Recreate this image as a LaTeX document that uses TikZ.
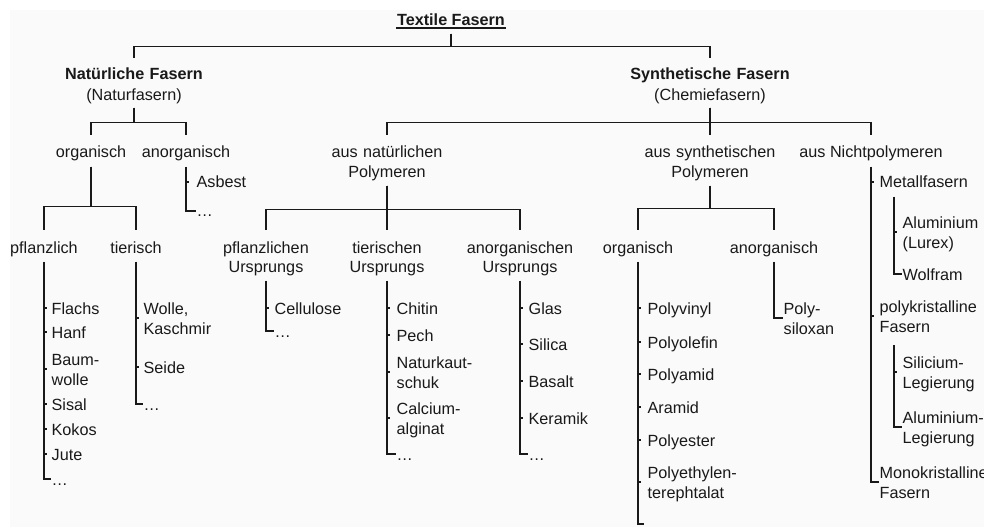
\documentclass[tikz,border=0pt]{standalone}
\usepackage{fontspec}
\setmainfont{Liberation Sans}
\usepackage{tikz}
\tikzset{cat/.style = {anchor=base, align=center, inner sep=0pt,
                       text height=22pt, text depth=8pt}}
\tikzset{cat2/.style = {cat, text width=200pt, text depth=27pt}}
\tikzset{item/.style = {anchor=west, inner sep=0pt,
                        text height=12pt, text depth=0pt}}
\tikzset{item2/.style = {item, align=left, text width=120pt, text depth=19pt}}
\definecolor{mgrey}{rgb}{0.98, 0.98, 0.98}
\definecolor{mline}{rgb}{0.1, 0.1, 0.1}

\begin{document}
\begin{tikzpicture}[x=1pt, y=-1pt, line width=1.3pt, color=mline,
                    every node/.style={font=\fontsize{16.2}{19.6}\selectfont}]
      \useasboundingbox (0, 0) rectangle (984, 529);
      \fill [mgrey] (10, 10) rectangle (984, 527);

      \node [anchor=base, inner sep=0pt, text height=12pt, text depth=7pt] (root) at (451, 26) {\textbf{Textile Fasern}};
      \draw ([yshift=-2pt]root.base west) -- ([yshift=-2pt]root.base east);

      \node [cat2, text height=21pt] (nat) at (134, 80) {\textbf{Natürliche Fasern}\\[1pt](Naturfasern)};
      \node [cat2, text height=21pt] (syn) at (710, 80) {\textbf{Synthetische Fasern}\\[1pt](Chemiefasern)};

      \node [cat] (org) at (91, 158) {organisch};
      \node [cat] (anorg) at (186, 158) {anorganisch};
      \node [cat2] (natpoly) at (387, 158) {aus natürlichen\\Polymeren};
      \node [cat2] (synpoly) at (710, 158) {aus synthetischen\\Polymeren};
      \node [cat] (nonpoly) at (871, 158) {aus Nichtpolymeren};

      \node [cat] (pfl) at (44, 253) {pflanzlich};
      \node [cat] (tier) at (136, 253) {tierisch};
      \node [cat2] (pu) at (266, 253) {pflanzlichen\\Ursprungs};
      \node [cat2] (tu) at (387, 253) {tierischen\\Ursprungs};
      \node [cat2] (au) at (520, 253) {anorganischen\\Ursprungs};
      \node [cat] (sorg) at (638, 253) {organisch};
      \node [cat] (sanorg) at (774, 253) {anorganisch};

      \draw (root.south) -- ++(0, 13) -| (nat.north);
      \draw (root.south) -- ++(0, 13) -| (syn.north);
      \draw (nat.south) -- ++(0, 15) -| (org.north);
      \draw (nat.south) -- ++(0, 15) -| (anorg.north);
      \draw (org.south) -- ++(0, 40) -| (pfl.north);
      \draw (org.south) -- ++(0, 40) -| (tier.north);
      \draw (syn.south) -- ++(0, 15) -| (natpoly.north);
      \draw (syn.south) -- ++(0, 15) -| (nonpoly.north);
      \draw (syn.south) -- (synpoly.north);
      \draw (natpoly.south) -- ++(0, 24) -| (pu.north);
      \draw (natpoly.south) -- ++(0, 24) -| (au.north);
      \draw (natpoly.south) -- (tu.north);
      \draw (synpoly.south) -- ++(0, 23) -| (sorg.north);
      \draw (synpoly.south) -- ++(0, 23) -| (sanorg.north);

      \node [item] (asbest) at (196, 182) {Asbest};
      \node [item] (adots) at (196, 211) {…};
      \draw (anorg.south) |- (adots.west);
      \draw (asbest.west -| anorg.south) -- ++(3, 0);

      \node [item] (flachs) at (51, 308) {Flachs};
      \node [item] (hanf) at (51, 332) {Hanf};
      \node [item2] (baum) at (51, 369) {Baum-\\wolle};
      \node [item] (sisal) at (51, 404) {Sisal};
      \node [item] (kokos) at (51, 429) {Kokos};
      \node [item] (jute) at (51, 454) {Jute};
      \node [item] (pdots) at (51, 479) {…};
      \draw (pfl.south) |- (pdots.west);
      \foreach \n in {flachs, hanf, baum, sisal, kokos, jute}
        \draw (\n.west -| pfl.south) -- ++(3, 0);

      \node [item2] (wolle) at (143, 318) {Wolle,\\Kaschmir};
      \node [item] (seide) at (143, 367) {Seide};
      \node [item] (tdots) at (143, 404) {…};
      \draw (tier.south) |- (tdots.west);
      \foreach \n in {wolle, seide}
        \draw (\n.west -| tier.south) -- ++(3, 0);

      \node [item] (cellu) at (274, 308) {Cellulose};
      \node [item] (pudots) at (274, 331) {…};
      \draw (pu.south) |- (pudots.west);
      \draw (cellu.west -| pu.south) -- ++(3, 0);

      \node [item] (chitin) at (396, 308) {Chitin};
      \node [item] (pech) at (396, 335) {Pech};
      \node [item2] (kaut) at (396, 372) {Naturkaut-\\schuk};
      \node [item2] (calc) at (396, 418) {Calcium-\\alginat};
      \node [item] (tudots) at (396, 454) {…};
      \draw (tu.south) |- (tudots.west);
      \foreach \n in {chitin, pech, kaut, calc}
        \draw (\n.west -| tu.south) -- ++(3, 0);

      \node [item] (glas) at (528, 308) {Glas};
      \node [item] (silica) at (528, 344) {Silica};
      \node [item] (basalt) at (528, 381) {Basalt};
      \node [item] (keramik) at (528, 418) {Keramik};
      \node [item] (audots) at (528, 454) {…};
      \draw (au.south) |- (audots.west);
      \foreach \n in {glas, silica, basalt, keramik}
        \draw (\n.west -| au.south) -- ++(3, 0);

      \node [item] (pvinyl) at (647, 308) {Polyvinyl};
      \node [item] (polef) at (647, 342) {Polyolefin};
      \node [item] (pamid) at (647, 374) {Polyamid};
      \node [item] (aramid) at (647, 407) {Aramid};
      \node [item] (pester) at (647, 440) {Polyester};
      \node [item2] (pet) at (647, 482) {Polyethylen-\\terephtalat};
      \coordinate (sorgend) at (644, 524);
      \draw (sorg.south) |- (sorgend);
      \foreach \n in {pvinyl, polef, pamid, aramid, pester, pet}
        \draw (\n.west -| sorg.south) -- ++(3, 0);

      \node [item2] (siloxan) at (783, 318) {Poly-\\siloxan};
      \draw (sanorg.south) |- (siloxan.west);

      \node [item] (metal) at (879, 182) {Metallfasern};
      \node [item2] (polyk) at (879, 316) {polykristalline\\Fasern};
      \node [item2] (mono) at (879, 482) {Monokristalline\\Fasern};
      \draw (nonpoly.south) |- (mono.west);
      \foreach \n in {metal, polyk}
        \draw (\n.west -| nonpoly.south) -- ++(3, 0);

      \coordinate (metalsub) at ([xshift=15pt, yshift=-8pt]metal.south west);
      \node [item2] (alu) at (902, 232) {Aluminium\\(Lurex)};
      \node [item] (wolf) at (902, 274) {Wolfram};
      \draw (metalsub) |- (wolf.west);
      \draw (alu.west -| metalsub) -- ++(3, 0);

      \coordinate (polysub) at ([xshift=15pt, yshift=-13pt]polyk.south west);
      \node [item2] (sili) at (902, 372) {Silicium-\\Legierung};
      \node [item2] (alleg) at (902, 427) {Aluminium-\\Legierung};
      \draw (polysub) |- (alleg.west);
      \draw (sili.west -| polysub) -- ++(3, 0);
\end{tikzpicture}
\end{document}
